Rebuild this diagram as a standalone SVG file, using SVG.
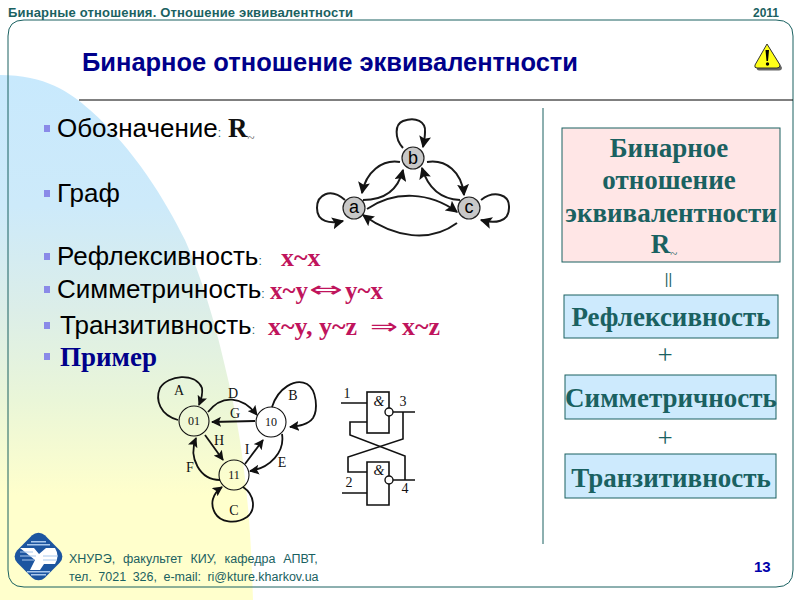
<svg xmlns="http://www.w3.org/2000/svg" width="800" height="600" viewBox="0 0 800 600">
<style>
.hdr{font-family:"Liberation Sans",Arial,sans-serif;font-weight:bold;font-size:13px;fill:#1a6161}
.foot{font-family:"Liberation Sans",Arial,sans-serif;font-size:12.5px;fill:#1a6161}
.li{font-family:"Liberation Sans",Arial,sans-serif;font-size:26px;fill:#000}
.sep{font-size:12px;fill:#1a6161}
.f{font-family:"Liberation Serif","Times New Roman",serif;font-weight:bold;font-size:26px;fill:#c0145c}
.ar{font-family:"DejaVu Sans",sans-serif;font-size:22px;fill:#c0145c}
.bx{font-family:"Liberation Serif","Times New Roman",serif;font-weight:bold;font-size:27px;fill:#1a6161;text-anchor:middle}
.t{font-family:"Liberation Serif","Times New Roman",serif;font-size:14px;fill:#111;text-anchor:middle}
.nl{font-family:"Liberation Sans",Arial,sans-serif;font-size:18px;fill:#000;text-anchor:middle}
.e{fill:none;stroke:#1a1a1a;stroke-width:2;marker-end:url(#ah)}
.e2{fill:none;stroke:#111;stroke-width:1.8;marker-end:url(#ah2)}
.n{fill:#c8c8c8;stroke:#222;stroke-width:1.2}
.n2{fill:none;stroke:#111;stroke-width:1.1}
.w{fill:none;stroke:#111;stroke-width:1.6}
.box{stroke:#1a6161;stroke-width:1}
.pm{font-family:"Liberation Serif",serif;font-size:27px;fill:#1a6161;text-anchor:middle}
</style>
<defs>
<linearGradient id="bg" gradientUnits="userSpaceOnUse" x1="0" y1="75" x2="0" y2="600"><stop offset="0" stop-color="#c8e9fd"/><stop offset="0.25" stop-color="#cdeafa"/><stop offset="0.45" stop-color="#dceee8"/><stop offset="0.62" stop-color="#eaf6d8"/><stop offset="0.8" stop-color="#ffffcc"/><stop offset="1" stop-color="#ffffcc"/></linearGradient>
<marker id="ah" viewBox="0 0 10 10" refX="9" refY="5" markerWidth="12" markerHeight="12" markerUnits="userSpaceOnUse" orient="auto"><path d="M0 0L10 5L0 10L2 5Z" fill="#111"/></marker>
<marker id="ah2" viewBox="0 0 10 10" refX="9" refY="5" markerWidth="10" markerHeight="10" markerUnits="userSpaceOnUse" orient="auto"><path d="M0 0L10 5L0 10L2 5Z" fill="#111"/></marker>
</defs>
<rect width="800" height="600" fill="#fff"/>
<path d="M0 75C45 75 70 92 90 110C135 150 165 200 185 240C205 285 218 335 227 375C240 430 250 490 253 600L0 600Z" fill="url(#bg)"/>
<g id="frame" fill="none" stroke="#1a6161" stroke-width="1">
<path d="M24 20H776Q793 20 793 36V570Q793 587 776 587H24Q8 587 8 570V36Q8 20 24 20Z"/>
<line x1="79" y1="100" x2="793" y2="100" stroke="#000"/>
<line x1="543" y1="108" x2="543" y2="544"/>
</g>
<text class="hdr" x="8" y="17" textLength="345" lengthAdjust="spacing">Бинарные отношения. Отношение эквивалентности</text>
<text class="hdr" x="753" y="17" textLength="26" lengthAdjust="spacingAndGlyphs">2011</text>
<text x="82" y="71" textLength="496" lengthAdjust="spacingAndGlyphs" style="font-family:'Liberation Sans',Arial,sans-serif;font-weight:bold;font-size:26px;fill:#00008b">Бинарное отношение эквивалентности</text>
<g id="warning">
<path d="M768 46L781 66Q781 69 778 69H758Q755 69 756 66Z" fill="#666" transform="translate(1 1.5)"/>
<path d="M767 44L780 65Q780 68 777 68H757Q754 68 755 65Z" fill="#ffff19" stroke="#333" stroke-width="1"/>
<path d="M765.5 50H769L768 61H766.5Z" fill="#000"/><circle cx="767.5" cy="64" r="1.7" fill="#000"/>
</g>
<g id="bullets" fill="#8a8ae8">
<rect x="44" y="125" width="6" height="7"/><rect x="44" y="190" width="6" height="7"/><rect x="44" y="253" width="6" height="7"/><rect x="44" y="286" width="6" height="7"/><rect x="44" y="322" width="6" height="7"/><rect x="44" y="353" width="6" height="7"/>
</g>
<g id="list">
<text class="li" x="57" y="137">Обозначение<tspan class="sep">:</tspan></text>
<text x="228" y="137" style="font-family:'Liberation Serif',serif;font-weight:bold;font-size:27px;fill:#111">R<tspan font-size="13" dy="5" font-weight="normal" fill="#555">~</tspan></text>
<text class="li" x="57" y="202">Граф</text>
<text class="li" x="57" y="265">Рефлексивность<tspan class="sep">:</tspan></text>
<text class="f" x="281" y="266">x~x</text>
<text class="li" x="57" y="298">Симметричность<tspan class="sep">:</tspan></text>
<text class="f" x="270" y="299" font-size="25" style="font-size:25px">x~y</text>
<text class="ar" x="309" y="297" textLength="34" lengthAdjust="spacingAndGlyphs">⇔</text>
<text class="f" x="345" y="299" style="font-size:25px">y~x</text>
<text class="li" x="60" y="334">Транзитивность<tspan class="sep">:</tspan></text>
<text class="f" x="268" y="335">x~y, y~z</text>
<text class="ar" x="370" y="334" textLength="28" lengthAdjust="spacingAndGlyphs">⇒</text>
<text class="f" x="402" y="335">x~z</text>
<text x="60" y="366" style="font-family:'Liberation Serif',serif;font-weight:bold;font-size:27px;fill:#00008b">Пример</text>
</g>
<g id="graph1-connectors">
<path class="e" d="M403 148C394 138 395 124 403 121C416 116 426 122 425 132C425 137 424 142 423 147"/>
<path class="e" d="M400 162C382 159 366 172 362 193"/>
<path class="e" d="M363 200C384 200 398 190 403 170"/>
<path class="e" d="M427 162C446 159 462 172 464 195"/>
<path class="e" d="M460 200C440 199 428 188 422 168"/>
<path class="e" d="M367 209C395 190 430 192 457 212"/>
<path class="e" d="M457 223C430 243 395 238 363 215"/>
<path class="e" d="M345 200C330 187 317 195 317 208C317 222 330 224 343 221"/>
<path class="e" d="M481 200C494 190 510 194 509 208C509 222 495 224 481 220"/>
</g>
<g id="node-b"><circle class="n" cx="413" cy="158" r="11"/><text class="nl" x="413" y="164">b</text></g>
<g id="node-a"><circle class="n" cx="354" cy="208" r="11"/><text class="nl" x="354" y="213">a</text></g>
<g id="node-c"><circle class="n" cx="469" cy="208" r="11"/><text class="nl" x="469" y="213">c</text></g>
<g id="graph2-connectors">
<path class="e2" d="M178 420C160 415 155 400 160 388C168 375 195 372 202 388C203 394 201 400 199 405"/>
<path class="e2" d="M208 412C222 394 242 396 257 415"/>
<path class="e2" d="M255 421L212 422"/>
<path class="e2" d="M272 407C278 388 295 378 307 384C317 390 318 410 313 418C308 425 298 426 290 427"/>
<path class="e2" d="M282 434C285 452 270 468 250 471"/>
<path class="e2" d="M245 464L263 440"/>
<path class="e2" d="M205 435L223 460"/>
<path class="e2" d="M220 480C200 480 188 458 196 438"/>
<path class="e2" d="M243 487C255 495 256 510 247 517C235 525 220 522 215 513C210 504 212 494 222 487"/>
</g>
<g id="node-01"><circle class="n2" cx="194" cy="421" r="15"/><text class="t" x="194" y="425" style="font-size:12px">01</text></g>
<g id="node-10"><circle class="n2" cx="271" cy="422" r="15"/><text class="t" x="271" y="426" style="font-size:12px">10</text></g>
<g id="node-11"><circle class="n2" cx="234" cy="475" r="15"/><text class="t" x="234" y="479" style="font-size:12px">11</text></g>
<g id="graph2-labels">
<text class="t" x="179" y="395">A</text><text class="t" x="293" y="400">B</text><text class="t" x="234" y="515">C</text><text class="t" x="233" y="398">D</text><text class="t" x="282" y="467">E</text><text class="t" x="190" y="472">F</text><text class="t" x="235" y="418">G</text><text class="t" x="219" y="445">H</text><text class="t" x="247" y="454">I</text>
</g>
<g id="trigger">
<rect x="367" y="392" width="22" height="41" fill="none" stroke="#111" stroke-width="1.6"/>
<path d="M367 462H389V505H367Z" fill="none" stroke="#111" stroke-width="1.6"/>
<circle cx="389" cy="412" r="4" fill="#fff" stroke="#111" stroke-width="1.4"/>
<circle cx="389" cy="480" r="4" fill="#fff" stroke="#111" stroke-width="1.4"/>
<path class="w" d="M341 403H367M393 412H415M393 480H415M342 493H367"/>
<path class="w" d="M367 422H350V435L405 456V480"/>
<path class="w" d="M403 412V439L348 457V472H367"/>
<text class="t" x="379" y="406" font-style="italic">&amp;</text><text class="t" x="379" y="475" font-style="italic">&amp;</text>
<text class="t" x="347" y="398">1</text><text class="t" x="403" y="406">3</text><text class="t" x="349" y="487">2</text><text class="t" x="405" y="493">4</text>
</g>
<g id="box-main"><rect class="box" x="562" y="128" width="218" height="134" fill="#ffe6e6"/>
<text class="bx" x="669" y="157">Бинарное</text><text class="bx" x="669" y="189">отношение</text><text class="bx" x="671" y="222">эквивалентности</text>
<text class="bx" x="664" y="253">R<tspan font-size="13" dy="5" font-weight="normal">~</tspan></text></g>
<text x="668.5" y="284" text-anchor="middle" style="font-family:'Liberation Sans',sans-serif;font-size:14px;fill:#1a6161">||</text>
<g id="box-r"><rect class="box" x="564" y="295" width="214" height="43" fill="#cdeafd"/><text class="bx" x="671" y="326">Рефлексивность</text></g>
<text class="pm" x="665" y="364">+</text>
<g id="box-s"><rect class="box" x="565" y="375" width="211" height="44" fill="#cdeafd"/><text class="bx" x="671" y="407">Симметричность</text></g>
<text class="pm" x="665" y="447">+</text>
<g id="box-t"><rect class="box" x="565" y="454" width="211" height="44" fill="#cdeafd"/><text class="bx" x="671" y="487">Транзитивность</text></g>
<g id="logo">
<rect x="19" y="537" width="39" height="39" rx="9" transform="rotate(45 38.5 556.5)" fill="#1c55a0"/>
<g fill="#a9c8ec"><rect x="31" y="541" width="15" height="1.5"/><rect x="27" y="544" width="23" height="1.5"/><rect x="27" y="571" width="23" height="1.5"/><rect x="31" y="574" width="15" height="1.5"/></g>
<path d="M20 548H34L39 554L46 548H55Q60 556 55 564H44L40 570H30L35 560Z" fill="#fff"/>
<g stroke="#a9c8ec" stroke-width="1"><path d="M20 552H33M20 556H36M22 560H34M43 556H58M43 560H57"/></g>
</g>
<text class="foot" x="69" y="563" style="word-spacing:4.5px">ХНУРЭ, факультет КИУ, кафедра АПВТ,</text>
<text class="foot" x="69" y="581" style="word-spacing:3px">тел. 7021 326, e-mail: ri@kture.kharkov.ua</text>
<text x="754" y="572" style="font-family:'Liberation Sans',sans-serif;font-weight:bold;font-size:15px;fill:#0000aa">13</text>
</svg>
